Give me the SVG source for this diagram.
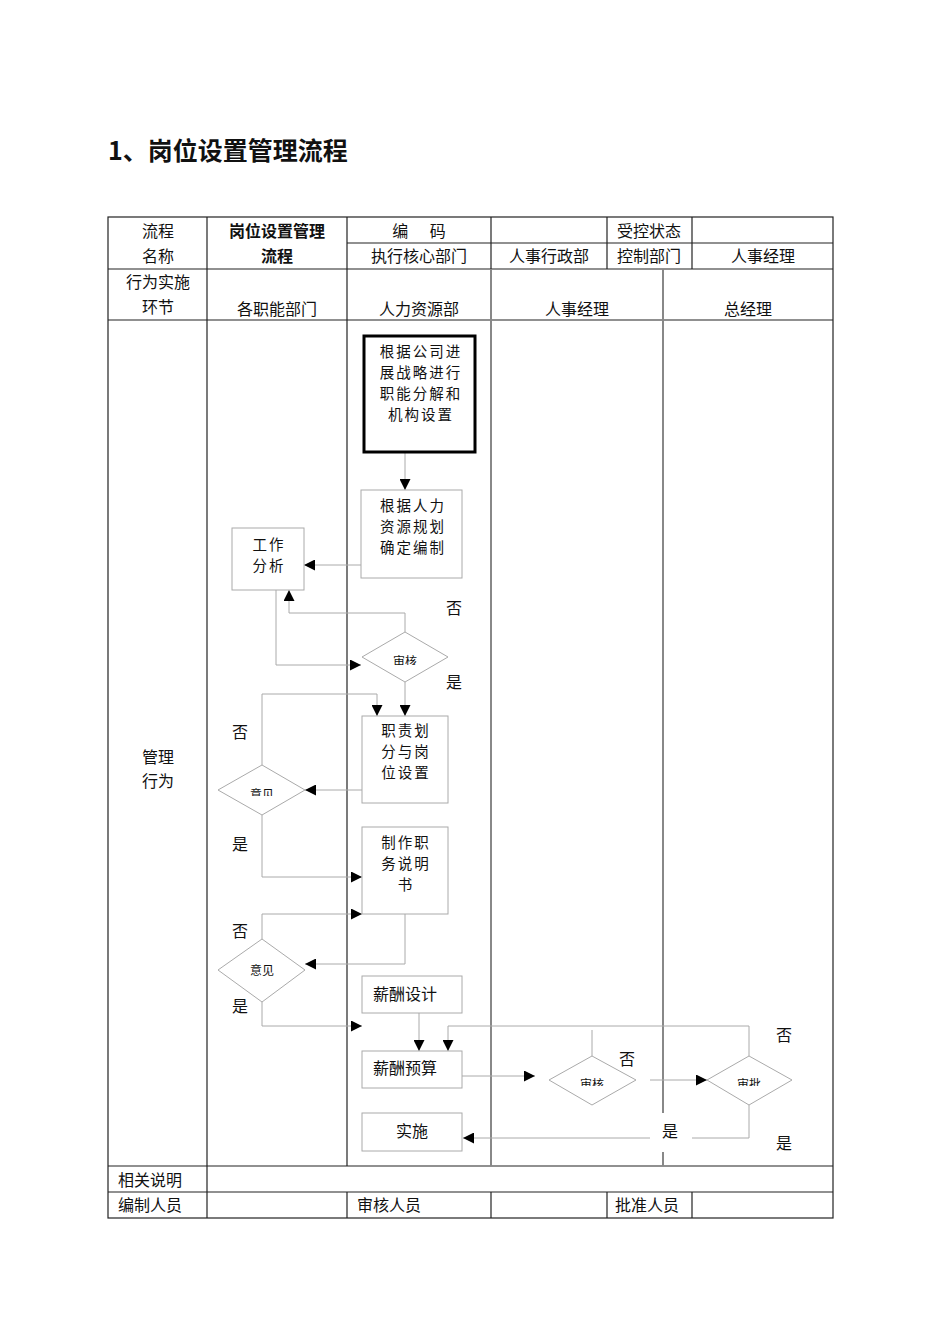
<svg xmlns="http://www.w3.org/2000/svg" width="950" height="1344" viewBox="0 0 950 1344">
<style>
text{font-family:"Noto Sans CJK SC","Liberation Sans",sans-serif;font-size:16px;fill:#111;text-anchor:middle}
.l{text-anchor:start}
.b{font-weight:bold}
.s{font-size:12px}
.m{font-size:14.5px;letter-spacing:2px}
.t{stroke:#222;stroke-width:1.2;fill:none}
.g{stroke:#888;stroke-width:2;fill:none}
.box{fill:#fff;stroke:#aaa;stroke-width:1}
.c{stroke:#aaa;stroke-width:1;fill:none}
.ca{stroke:#aaa;stroke-width:1;fill:none;marker-end:url(#ah)}
</style>
<defs>
<marker id="ah" viewBox="0 0 10 10" refX="10" refY="5" markerWidth="11" markerHeight="11" markerUnits="userSpaceOnUse" orient="auto">
<path d="M0,0 L10,5 L0,10 z" fill="#000"/>
</marker>
<clipPath id="clip1"><rect x="360" y="640" width="90" height="25"/></clipPath>
<clipPath id="clip2"><rect x="215" y="775" width="95" height="21"/></clipPath>
<clipPath id="clip3"><rect x="545" y="1065" width="95" height="21"/></clipPath>
<clipPath id="clip4"><rect x="705" y="1065" width="90" height="21"/></clipPath>
</defs>
<rect width="950" height="1344" fill="#fff"/>
<text class="l b" x="108" y="160" style="font-size:25px">1、岗位设置管理流程</text>
<g id="table">
<rect class="t" x="108" y="217" width="725" height="1001"/>
<line class="t" x1="347" y1="243" x2="833" y2="243"/>
<line class="t" x1="108" y1="269" x2="833" y2="269"/>
<line class="t" x1="108" y1="320" x2="833" y2="320"/>
<line class="t" x1="108" y1="1166" x2="833" y2="1166"/>
<line class="t" x1="108" y1="1192" x2="833" y2="1192"/>
<line class="t" x1="207" y1="217" x2="207" y2="1218"/>
<line class="t" x1="347" y1="217" x2="347" y2="1166"/>
<line class="t" x1="491" y1="217" x2="491" y2="269"/>
<line class="t" x1="607" y1="217" x2="607" y2="269"/>
<line class="t" x1="692" y1="217" x2="692" y2="269"/>
<line class="g" x1="491" y1="269" x2="491" y2="1166"/>
<line class="g" x1="663" y1="269" x2="663" y2="1166"/>
<line class="t" x1="347" y1="1192" x2="347" y2="1218"/>
<line class="t" x1="491" y1="1192" x2="491" y2="1218"/>
<line class="t" x1="607" y1="1192" x2="607" y2="1218"/>
<line class="t" x1="692" y1="1192" x2="692" y2="1218"/>
<text x="158" y="237">流程<tspan x="158" dy="25">名称</tspan></text>
<text class="b" x="277" y="237">岗位设置管理<tspan x="277" dy="25">流程</tspan></text>
<text x="419" y="237" xml:space="preserve">编      码</text>
<text x="649" y="237">受控状态</text>
<text x="419" y="262">执行核心部门</text>
<text x="549" y="262">人事行政部</text>
<text x="649" y="262">控制部门</text>
<text x="763" y="262">人事经理</text>
<text x="158" y="288">行为实施<tspan x="158" dy="25">环节</tspan></text>
<text x="277" y="315">各职能部门</text>
<text x="419" y="315">人力资源部</text>
<text x="577" y="315">人事经理</text>
<text x="748" y="315">总经理</text>
<text x="158" y="763">管理<tspan x="158" dy="24">行为</tspan></text>
<text class="l" x="118" y="1186">相关说明</text>
<text class="l" x="118" y="1211">编制人员</text>
<text class="l" x="357" y="1211">审核人员</text>
<text class="l" x="615" y="1211">批准人员</text>
</g>
<g id="connectors">
<line class="ca" x1="405" y1="453" x2="405" y2="490"/>
<line class="ca" x1="361" y1="565" x2="304" y2="565"/>
<polyline class="ca" points="405,632 405,613 289,613 289,590"/>
<polyline class="ca" points="276,590 276,665 361,665"/>
<line class="ca" x1="405" y1="682" x2="405" y2="716"/>
<polyline class="ca" points="262,765 262,694 377,694 377,716"/>
<line class="ca" x1="362" y1="790" x2="305" y2="790"/>
<polyline class="ca" points="262,815 262,877 362,877"/>
<polyline class="ca" points="405,914 405,964 305,964"/>
<polyline class="ca" points="262,939 262,914 362,914"/>
<polyline class="ca" points="262,1002 262,1026 362,1026"/>
<line class="ca" x1="419" y1="1013" x2="419" y2="1051"/>
<polyline class="ca" points="749,1056 749,1026 448,1026 448,1051"/>
<line class="c" x1="592" y1="1056" x2="592" y2="1030"/>
<line class="ca" x1="462" y1="1076" x2="535" y2="1076"/>
<line class="ca" x1="650" y1="1080" x2="707" y2="1080"/>
<polyline class="c" points="749,1105 749,1138 692,1138"/>
<rect x="651" y="1113" width="40" height="39" fill="#fff"/>
<line class="ca" x1="650" y1="1138" x2="463" y2="1138"/>
<text x="454" y="614">否</text>
<text x="454" y="688">是</text>
<text x="240" y="738">否</text>
<text x="240" y="850">是</text>
<text x="240" y="937">否</text>
<text x="240" y="1012">是</text>
<text x="627" y="1065">否</text>
<text x="784" y="1041">否</text>
<text x="670" y="1137">是</text>
<text x="784" y="1149">是</text>
</g>
<g id="n1">
<rect x="364" y="336" width="111" height="116" fill="#fff" stroke="#000" stroke-width="3"/>
<text class="m" x="421" y="357">根据公司进<tspan x="421" dy="21">展战略进行</tspan><tspan x="421" dy="21">职能分解和</tspan><tspan x="421" dy="21">机构设置</tspan></text>
</g>
<g id="n2">
<rect class="box" x="361" y="490" width="101" height="88"/>
<text class="m" x="413" y="511">根据人力<tspan x="413" dy="21">资源规划</tspan><tspan x="413" dy="21">确定编制</tspan></text>
</g>
<g id="n3">
<rect class="box" x="232" y="528" width="72" height="62"/>
<text class="m" x="269" y="550">工作<tspan x="269" dy="21">分析</tspan></text>
</g>
<g id="d1">
<polygon class="box" points="405,632 448,657 405,682 362,657"/>
<text class="s" x="405" y="666" clip-path="url(#clip1)">审核</text>
</g>
<g id="n4">
<rect class="box" x="362" y="716" width="86" height="87"/>
<text class="m" x="406" y="736">职责划<tspan x="406" dy="21">分与岗</tspan><tspan x="406" dy="21">位设置</tspan></text>
</g>
<g id="d2">
<polygon class="box" points="262,765 305,790 262,815 218,790"/>
<text class="s" x="262" y="799" clip-path="url(#clip2)">意见</text>
</g>
<g id="n5">
<rect class="box" x="362" y="827" width="86" height="87"/>
<text class="m" x="406" y="848">制作职<tspan x="406" dy="21">务说明</tspan><tspan x="406" dy="21">书</tspan></text>
</g>
<g id="d3">
<polygon class="box" points="262,939 305,970 262,1002 218,970"/>
<text class="s" x="262" y="975">意见</text>
</g>
<g id="n6">
<rect class="box" x="362" y="976" width="100" height="37"/>
<text x="405" y="1000">薪酬设计</text>
</g>
<g id="n7">
<rect class="box" x="362" y="1051" width="100" height="37"/>
<text x="405" y="1074">薪酬预算</text>
</g>
<g id="d4">
<polygon class="box" points="592,1056 636,1080 592,1105 549,1080"/>
<text class="s" x="592" y="1089" clip-path="url(#clip3)">审核</text>
</g>
<g id="d5">
<polygon class="box" points="749,1056 792,1080 749,1105 707,1080"/>
<text class="s" x="749" y="1089" clip-path="url(#clip4)">审批</text>
</g>
<g id="n8">
<rect class="box" x="362" y="1113" width="100" height="38"/>
<text x="412" y="1137">实施</text>
</g>
</svg>
